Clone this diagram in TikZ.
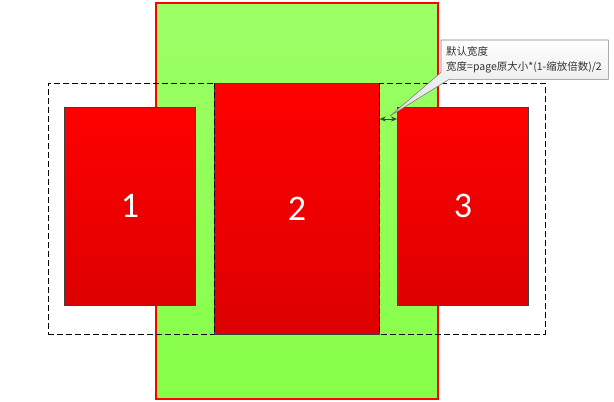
\documentclass[tikz,border=0pt]{standalone}
\usepackage{fontspec}
\setmainfont{Carlito}
\newfontfamily\cjk{Noto Sans CJK SC}
\usetikzlibrary{arrows.meta,shadows}
\pgfdeclarelayer{calloutbg}
\pgfdeclarelayer{callouttext}
\pgfsetlayers{main,calloutbg,callouttext}
\definecolor{gtop}{HTML}{9CFF66}
\definecolor{gbot}{HTML}{86FF48}
\definecolor{rtop}{HTML}{FF0000}
\definecolor{rbot}{HTML}{DD0000}
\definecolor{edge}{HTML}{404040}
\tikzset{
  redbox/.style={draw=edge, line width=0.8pt, top color=rtop, bottom color=rbot, inner sep=0pt, text=white, font=\fontsize{36}{36}\selectfont},
  greenbox/.style={draw=red, line width=2pt, top color=gtop, bottom color=gbot, drop shadow={shadow xshift=1pt, shadow yshift=-1pt, opacity=0.25}},
  dashbox/.style={draw=black, dashed, line width=0.8pt, dash pattern=on 6pt off 3pt},
  note/.style={rectangle, align=left, inner xsep=5pt, inner ysep=3pt, font=\cjk\fontsize{10.5}{15}\selectfont, text=black!80, anchor=north west, minimum width=167pt, minimum height=39pt, text width=157pt},
  notebg/.style={draw=gray, line width=0.6pt, top color=white, bottom color=gray!25, line join=round}
}
\begin{document}
\begin{tikzpicture}[x=1pt,y=-1pt]
\useasboundingbox (0,0) rectangle (614,402);
\node[greenbox, minimum width=282pt, minimum height=396pt, anchor=north west] (page) at (155,1.5) {};
\node[dashbox, minimum width=497pt, minimum height=251pt, anchor=north west] (frame) at (48,83) {};
\node[redbox, minimum width=131pt, minimum height=198pt, anchor=north west] (r1) at (64,107) {1};
\node[redbox, minimum width=131pt, minimum height=198pt, anchor=north west] (r3) at (397,107) {3};
\node[redbox, minimum width=165pt, minimum height=251pt, anchor=north west] (r2) at (214,83) {2};
\draw[dashbox] (r2.north west) -- (r2.south west) (r2.north east) -- (r2.south east);
\coordinate (aL) at (r2.east |- 0,119);
\coordinate (aR) at (r3.west |- 0,119);
\draw[{Stealth[length=6pt,width=5pt]}-{Stealth[length=6pt,width=5pt]}, draw=edge, line width=0.7pt] (aL) -- (aR);
\coordinate (tip) at (390,116);
\begin{pgfonlayer}{callouttext}
\node[note] (n) at (441,40) {默认宽度\\宽度=page原大小*(1-缩放倍数)/2};
\end{pgfonlayer}
\begin{pgfonlayer}{calloutbg}
\path[notebg] (n.north west) -- (n.north east) -- (n.south east) -- ([xshift=8pt]n.south west) -- (tip) -- ([yshift=7pt]n.south west) -- cycle;
\end{pgfonlayer}
\end{tikzpicture}
\end{document}
